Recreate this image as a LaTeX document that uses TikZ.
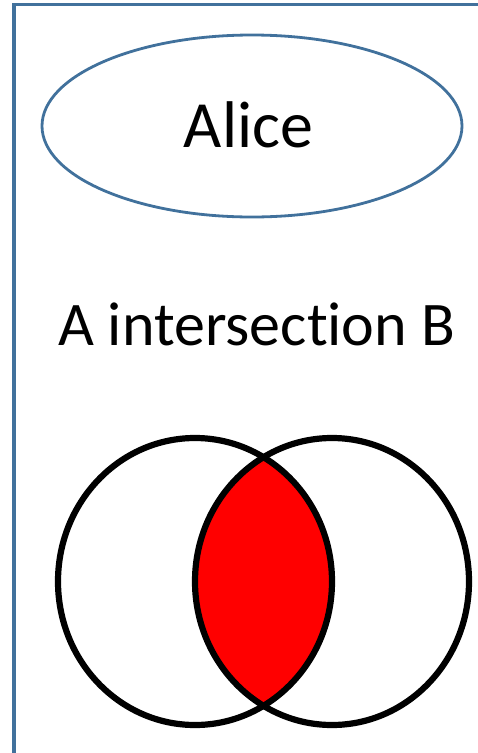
\documentclass[tikz,border=0pt]{standalone}
\usepackage{fontspec}
\setmainfont{Carlito}[Ligatures=NoCommon,RawFeature={-liga;-clig}]
\usetikzlibrary{shapes.geometric}
\definecolor{officeblue}{HTML}{41719C}
\begin{document}
\begin{tikzpicture}[x=1pt,y=-1pt,
  framestyle/.style={draw=officeblue,line width=3.2pt},
  ovalstyle/.style={ellipse,draw=officeblue,line width=2.8pt,inner sep=0pt,minimum width=420pt,minimum height=182pt},
  vennstyle/.style={draw=black,line width=6.2pt},
  labelstyle/.style={inner sep=0pt,anchor=base}]
\useasboundingbox (0,0) rectangle (477,753);
\coordinate (tl) at (14,4.7);
\coordinate (tr) at (480,4.7);
\coordinate (bl) at (14,756);
\draw[framestyle] (tr) -- (tl) -- (bl);
\node[ovalstyle] (alice) at (252,126) {};
\node[labelstyle,font=\fontsize{66}{66}\selectfont] (alicetext) at (248.5,147) {Alice};
\node[labelstyle,font=\fontsize{62}{62}\selectfont] (title) at (256.5,345) {A intersection B};
\begin{scope}
  \clip (195,581.5) ellipse [x radius=137, y radius=143.5];
  \fill[red] (332,581.5) ellipse [x radius=137, y radius=143.5];
\end{scope}
\draw[vennstyle] (195,581.5) ellipse [x radius=137, y radius=143.5];
\draw[vennstyle] (332,581.5) ellipse [x radius=137, y radius=143.5];
\end{tikzpicture}
\end{document}
